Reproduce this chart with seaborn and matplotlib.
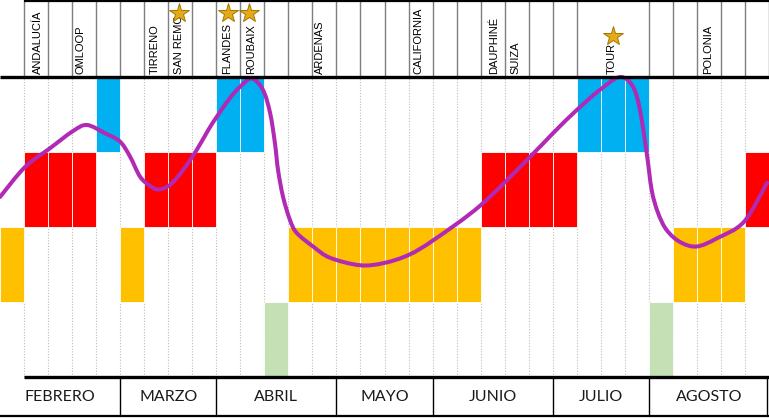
import numpy as np
import pandas as pd
import matplotlib
matplotlib.use("Agg")
import matplotlib.pyplot as plt
from matplotlib import font_manager
from matplotlib.path import Path
from matplotlib.patches import PathPatch
import seaborn as sns

# ---------------- data ----------------
# weekly intensity blocks (1 = green, 2 = orange, 3 = red, 4 = blue), one per week column
block_levels = [2, 3, 3, 3, 4, 2, 3, 3, 3, 4, 4, 1, 2, 2, 2, 2,
                2, 2, 2, 2, 3, 3, 3, 3, 4, 4, 4, 1, 2, 2, 2, 3]
level_colors = {1: "#C5E0B4", 2: "#FFC000", 3: "#FF0000", 4: "#00B0F0"}

# form curve (x in week columns, y in level units)
curve_x = [0.00, 1.04, 2.08, 3.04, 3.62, 4.37, 4.99, 5.41, 5.83, 6.24, 6.58, 7.07,
           7.62, 8.19, 8.66, 9.02, 9.57, 9.99, 10.47, 10.94, 11.24, 11.44, 11.57,
           11.78, 12.07, 12.35, 13.03, 13.73, 14.98, 15.98, 17.02, 18.06, 20.00,
           22.01, 23.01, 24.00, 24.97, 25.80, 26.34, 26.63, 26.91, 27.12, 27.38,
           27.74, 28.30, 28.99, 29.84, 30.96, 31.92]
curve_y = [2.40, 2.80, 3.05, 3.28, 3.36, 3.25, 3.14, 2.94, 2.67, 2.55, 2.50, 2.56,
           2.76, 3.03, 3.29, 3.47, 3.72, 3.87, 3.98, 3.83, 3.52, 3.12, 2.76,
           2.40, 2.09, 1.92, 1.74, 1.59, 1.49, 1.52, 1.63, 1.83, 2.29,
           2.92, 3.25, 3.56, 3.83, 4.00, 3.87, 3.56, 2.99, 2.49, 2.19,
           1.96, 1.80, 1.74, 1.85, 2.07, 2.59]

races = ["ANDALUCÍA", "OMLOOP", "TIRRENO", "SAN REMO", "FLANDES", "ROUBAIX",
         "ARDENAS", "CALIFORNIA", "DAUPHINÉ", "SUIZA", "TOUR", "POLONIA"]
race_x = [1.56, 3.37, 6.44, 7.44, 9.45, 10.46, 13.32, 17.4, 20.55, 21.43, 25.45, 29.46]

star_x = [7.45, 9.5, 10.38, 25.5]
star_y = [4.85, 4.85, 4.85, 4.55]

months = ["FEBRERO", "MARZO", "ABRIL", "MAYO", "JUNIO", "JULIO", "AGOSTO"]
month_edges = [0, 5, 9, 14, 18, 23, 27, 32]

# ---------------- figure ----------------
sns.set_theme(style="white")
names = {f.name for f in font_manager.fontManager.ttflist}
if "Liberation Sans Narrow" in names:
    race_font, race_size = "Liberation Sans Narrow", 9
else:
    race_font, race_size = "Liberation Sans", 8.0
month_font = "Lato" if "Lato" in names else "DejaVu Sans"

fig = plt.figure(figsize=(7.69, 4.18), dpi=100)
ax = fig.add_axes([0, 0, 1, 1])

# dotted week gridlines
for i in range(1, 32):
    ax.plot([i, i], [0, 4], color="#BDBDBD", lw=0.8, ls=(0, (1, 1.5)), zorder=1)

# blocks
xs = np.arange(len(block_levels)) + 0.5
lv = np.array(block_levels)
ax.bar(xs, np.ones_like(xs), bottom=lv - 1, width=1.0,
       color=[level_colors[v] for v in block_levels],
       edgecolor="white", linewidth=0.6, zorder=2)

# curve: smoothed line (Bezier segments through the read points, like a spreadsheet "smoothed line")
df = pd.DataFrame({"x": curve_x, "y": curve_y})
P = df[["x", "y"]].to_numpy()
ext = np.vstack([P[0], P, P[-1]])
verts = [tuple(P[0])]
codes = [Path.MOVETO]
for i in range(len(P) - 1):
    p0, p1, p2, p3 = ext[i], ext[i + 1], ext[i + 2], ext[i + 3]
    c1 = p1 + (p2 - p0) / 6.0
    c2 = p2 - (p3 - p1) / 6.0
    verts += [tuple(c1), tuple(c2), tuple(p2)]
    codes += [Path.CURVE4] * 3
ax.add_patch(PathPatch(Path(verts, codes), fill=False, edgecolor="#B12AB5",
                       lw=2.9, joinstyle="round", capstyle="round", zorder=5))
sns.despine(ax=ax, left=True, bottom=True)

ax.set_xlim(0, 32)
ax.set_ylim(-0.547, 5.027)
ax.axis("off")

# header
for i in range(1, 33):
    if i in (25, 26):
        continue
    ax.plot([i, i], [4.0, 5.027], color="#7F7F7F", lw=1.0, zorder=3)
ax.plot([1, 32], [5.01, 5.01], color="black", lw=1.6, zorder=4, solid_capstyle="butt")
ax.plot([0, 32], [4.0, 4.0], color="black", lw=2.4, zorder=6, solid_capstyle="butt")

for name, x in zip(races, race_x):
    ax.text(x, 4.045, name, rotation=90, ha="center", va="bottom",
            family=[race_font, "DejaVu Sans"], fontsize=race_size, color="black", zorder=7)

ax.plot(star_x, star_y, ls="none", marker="*", ms=15, mfc="#E6A91A",
        mec="#A27800", mew=0.7, zorder=8)

# month strip
ax.plot([1, 32], [0.0, 0.0], color="black", lw=2.4, zorder=6, solid_capstyle="butt")
ax.plot([0, 32], [-0.52, -0.52], color="black", lw=1.6, zorder=6, solid_capstyle="butt")
for e in month_edges[1:]:
    xe = min(e, 31.93)
    ax.plot([xe, xe], [-0.52, 0.0], color="black", lw=1.0, zorder=6)
for m, a, b in zip(months, month_edges[:-1], month_edges[1:]):
    ax.text((a + b) / 2, -0.265, m, ha="center", va="center",
            family=[month_font, "DejaVu Sans"], fontsize=11.5, color="#1a1a1a")

fig.savefig("out.png", dpi=100)
